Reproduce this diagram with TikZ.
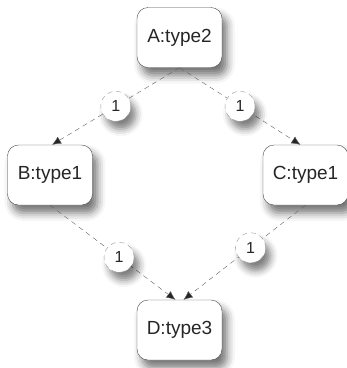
\documentclass[tikz,border=0pt]{standalone}
\usepackage{fontspec}
\setmainfont{Liberation Sans}
\usetikzlibrary{arrows.meta,shadows.blur}
\definecolor{edgegray}{HTML}{606060}
\definecolor{boxgray}{HTML}{4A4A4A}
\tikzset{
  typebox/.style={draw=boxgray, fill=white, rounded corners=11pt, minimum width=85pt,
    minimum height=60pt, font=\fontsize{19}{22}\selectfont, text=black!85,
    blur shadow={shadow xshift=5pt, shadow yshift=-8pt, shadow blur radius=8pt, shadow opacity=55}},
  mult/.style={circle, draw=black!40, fill=white, minimum size=30pt, inner sep=0pt,
    font=\fontsize{16}{18}\selectfont, text=black!85,
    blur shadow={shadow xshift=5pt, shadow yshift=-8pt, shadow blur radius=7pt, shadow opacity=50}},
  link/.style={draw=edgegray, dashed, dash pattern=on 5pt off 4pt, -{Latex[length=9pt,width=8pt,fill=black!85]}}
}
\begin{document}
\begin{tikzpicture}[x=1pt, y=-1pt, >=latex]
\useasboundingbox (0,0) rectangle (347,368);
% the four typed nodes
\node[typebox] (A) at (179.5,37.5) {A:type2};
\node[typebox] (B) at (50,175) {B:type1};
\node[typebox] (C) at (305.5,175) {C:type1};
\node[typebox] (D) at (179.5,330) {D:type3};

% links with their multiplicity
\path[link] (A.south) -- node[mult, pos=0.5] (ab) {1} ([xshift=2pt]B.north);
\path[link] (A.south) -- node[mult, pos=0.5] (ac) {1} ([xshift=-5pt]C.north);
\path[link] (B.south) -- node[mult, pos=0.55] (bd) {1} ([xshift=-4pt]D.north);
\path[link] (C.south) -- node[mult, pos=0.45] (cd) {1} ([xshift=4pt]D.north);
\end{tikzpicture}
\end{document}
